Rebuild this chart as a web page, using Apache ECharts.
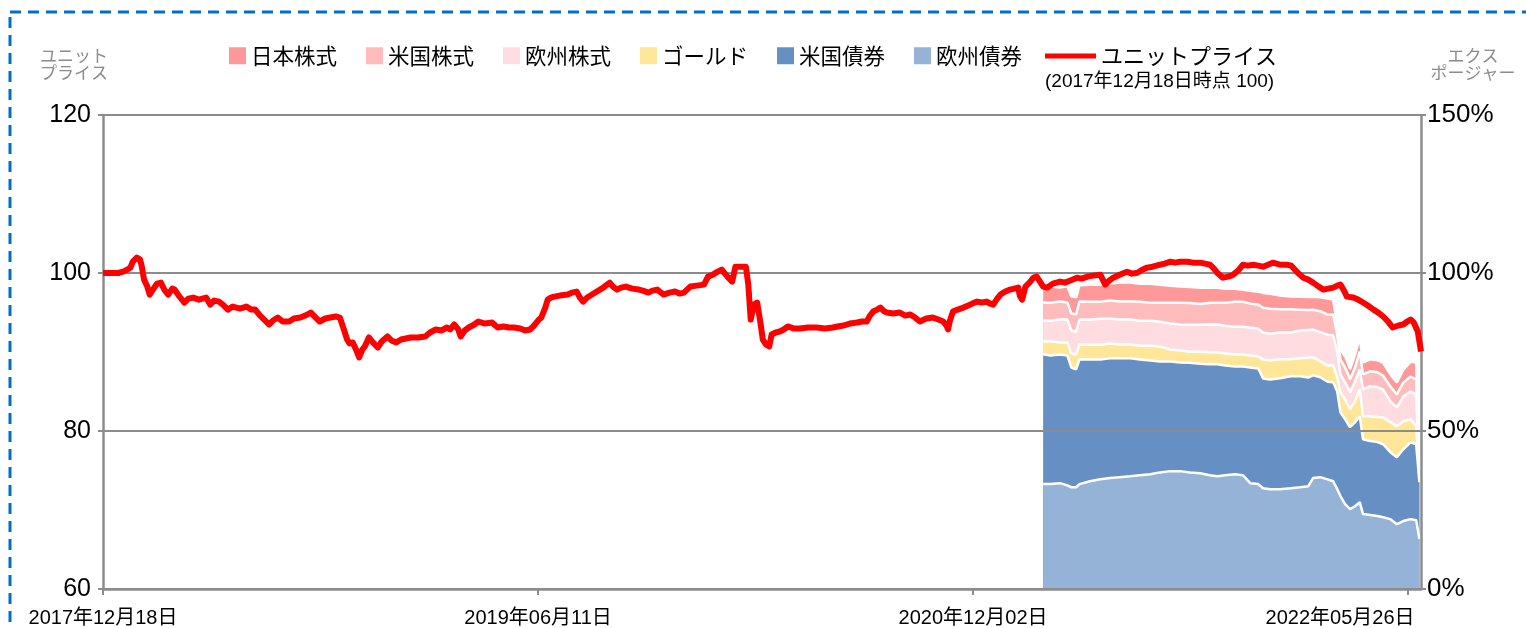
<!DOCTYPE html>
<html>
<head>
<meta charset="utf-8">
<script src="https://cdn.jsdelivr.net/npm/echarts@6/dist/echarts.min.js"></script>
<style>
html,body{margin:0;padding:0;background:#fff;}
#chart{width:1526px;height:628px;}
</style>
</head>
<body>
<div id="chart"></div>
<script>
// ---------- DATA ----------
// x positions are days counted from the start date 2017-12-18
const startDate = '2017-12-18';
const xTickStepDays = 540;
const xTickLabels = ['2017年12月18日', '2019年06月11日', '2020年12月02日', '2022年05月26日'];
const xMaxDays = 1636;

// Unit price (2017-12-18 = 100)
const priceDays = [0,9,19,25,30,34,37,42,46,48,51,55,58,62,67,72,76,81,86,89,94,101,106,112,119,128,133,138,144,150,155,161,170,178,184,189,195,200,206,211,217,223,231,237,245,251,258,264,269,276,282,289,294,299,303,306,310,314,318,322,325,330,335,341,346,353,358,364,370,376,382,391,400,406,413,420,427,431,436,441,444,449,454,461,466,474,483,487,490,497,504,510,518,524,530,534,538,541,544,549,552,556,560,567,577,582,588,592,596,601,607,613,621,624,629,633,638,643,649,657,665,670,677,682,688,691,696,703,710,716,721,725,729,737,746,751,757,763,768,775,781,785,791,798,801,804,808,812,816,819,823,827,830,835,840,845,850,858,865,875,886,896,906,912,919,927,936,942,948,952,956,961,965,970,973,981,989,996,1002,1008,1014,1022,1030,1037,1043,1047,1049,1051,1055,1061,1068,1074,1079,1085,1091,1097,1101,1105,1110,1114,1120,1126,1131,1136,1138,1141,1145,1150,1155,1159,1163,1167,1172,1179,1188,1194,1200,1209,1215,1222,1229,1238,1241,1244,1249,1254,1262,1271,1277,1284,1290,1296,1303,1312,1318,1325,1331,1337,1346,1353,1362,1368,1374,1379,1383,1387,1390,1397,1403,1409,1415,1421,1428,1434,1440,1446,1452,1461,1470,1475,1477,1483,1490,1496,1502,1509,1515,1521,1527,1532,1536,1541,1544,1552,1558,1564,1570,1577,1583,1589,1595,1601,1608,1614,1619,1623,1627,1632,1634,1636];
const priceValues = [100.0,100.0,100.0,100.17,100.42,100.68,101.43,101.94,101.69,100.93,99.16,98.28,97.27,97.90,98.66,98.78,97.90,97.27,98.02,97.90,97.14,96.26,96.76,96.89,96.63,96.89,96.00,96.51,96.38,95.88,95.37,95.75,95.50,95.75,95.37,95.37,94.61,94.11,93.48,93.98,94.36,93.86,93.86,94.24,94.36,94.61,94.99,94.36,93.86,94.24,94.36,94.49,94.36,92.85,91.58,91.08,91.21,90.32,89.31,90.32,90.70,91.84,91.21,90.57,91.33,91.96,91.46,91.21,91.58,91.71,91.84,91.84,91.96,92.47,92.85,92.72,93.10,92.85,93.48,92.85,91.96,92.72,93.10,93.48,93.86,93.60,93.73,93.35,93.10,93.23,93.10,93.10,92.97,92.72,92.85,93.23,93.73,94.11,94.36,95.62,96.63,96.89,97.01,97.14,97.27,97.52,97.65,96.89,96.38,96.89,97.27,97.65,98.15,98.40,98.78,98.28,97.90,98.15,98.28,98.02,97.90,97.77,97.52,97.77,97.90,97.65,97.27,97.52,97.65,97.39,97.52,97.90,98.28,98.40,98.53,99.54,99.79,100.17,100.42,99.54,98.91,100.80,100.80,100.80,98.53,94.11,96.00,96.26,93.73,91.58,90.95,90.70,92.22,92.47,92.59,92.85,93.23,92.97,92.97,93.10,93.10,92.97,93.10,93.23,93.35,93.60,93.73,93.86,93.86,94.61,95.12,95.37,95.62,95.12,94.99,94.87,94.99,94.61,94.74,94.36,93.86,94.24,94.36,94.11,93.86,93.35,92.85,93.86,95.12,95.37,95.62,95.88,96.13,96.38,96.26,96.38,96.13,96.00,96.76,97.27,97.65,97.90,98.02,98.15,97.14,96.63,98.28,98.78,99.41,99.54,98.91,98.28,98.15,98.66,98.91,98.78,99.03,99.41,99.29,99.54,99.67,99.79,99.16,98.53,99.03,99.41,99.79,100.17,99.92,100.04,100.42,100.68,100.80,101.05,101.18,101.43,101.31,101.43,101.43,101.31,101.31,101.18,101.05,100.55,100.04,99.67,99.41,99.54,99.79,100.30,101.05,100.93,101.05,100.93,100.80,101.05,101.31,101.05,101.05,100.93,100.68,100.04,99.41,99.16,98.78,98.28,97.90,98.02,98.15,98.40,98.53,97.65,97.01,96.89,96.63,96.26,95.88,95.37,94.99,94.49,93.86,93.10,93.35,93.48,93.86,94.11,93.73,92.59,91.33,90.07];

// Exposure by asset (% of portfolio)
const areaDays = [1167,1176,1188,1197,1202,1208,1212,1225,1238,1250,1262,1275,1287,1300,1312,1325,1337,1349,1362,1374,1383,1393,1405,1415,1424,1434,1440,1449,1461,1474,1486,1496,1502,1511,1520,1527,1532,1536,1542,1548,1554,1560,1564,1573,1582,1589,1598,1606,1614,1623,1630,1634];
const euBond  = [33.2,33.2,33.5,32.8,32.2,32.2,33.2,34.1,34.7,35.1,35.4,35.7,36.0,36.3,36.9,37.3,37.3,36.9,36.6,36.0,35.7,36.0,36.3,36.0,33.5,33.2,31.9,31.6,31.6,31.9,32.2,32.5,35.1,35.4,34.7,34.1,31.6,29.4,26.8,25.3,26.2,27.5,23.7,23.4,23.1,22.7,22.1,20.5,21.5,22.1,21.8,15.8];
const usBond  = [41.1,40.7,40.7,41.1,37.9,37.3,39.5,38.5,37.9,37.9,37.6,37.3,36.6,36.0,35.1,34.7,34.4,34.7,34.7,35.1,35.4,34.7,34.1,34.4,36.6,36.6,34.7,34.7,35.1,35.4,35.1,34.4,32.5,31.6,30.9,31.3,30.9,26.5,26.8,25.9,26.5,27.2,23.7,23.4,23.4,23.1,21.2,21.2,22.7,24.3,24.0,18.0];
const gold    = [4.1,4.4,3.8,4.1,4.4,4.7,4.7,4.7,4.7,4.7,4.4,4.4,4.4,4.7,4.7,3.8,3.8,3.5,3.8,3.8,3.8,3.8,3.8,3.8,3.8,3.8,6.0,6.0,6.0,5.4,5.7,6.3,5.7,5.1,5.1,5.4,4.4,6.3,6.3,5.7,6.6,8.5,7.3,7.9,7.9,8.5,9.5,9.8,8.8,7.3,5.7,1.6];
const euStock = [6.6,6.6,7.3,7.3,7.3,7.3,7.9,7.9,8.2,7.9,7.9,7.9,7.9,7.9,7.9,8.2,8.2,8.5,8.5,8.8,8.8,8.8,8.8,8.8,8.8,8.8,8.5,8.5,8.5,8.5,8.8,8.8,8.8,9.2,9.8,9.5,8.2,5.7,5.4,5.4,6.3,6.3,8.5,9.5,9.5,8.8,6.6,6.0,7.9,8.8,10.1,1.3];
const usStock = [5.7,5.7,5.7,5.4,5.4,5.4,5.7,5.7,5.4,5.7,5.7,5.7,6.0,5.7,6.0,6.6,6.9,6.9,6.6,6.9,6.9,7.3,7.9,7.9,7.6,7.6,7.9,7.9,7.3,7.3,6.6,6.3,6.3,6.6,6.3,6.6,5.4,4.7,4.7,4.1,4.4,5.7,4.7,4.7,4.7,4.4,4.7,4.1,4.4,4.7,4.7,1.3];
const jpStock = [4.7,5.1,4.4,5.1,5.4,5.4,5.1,5.4,5.4,5.4,6.0,6.0,5.7,6.0,5.7,5.4,5.1,5.1,5.1,4.7,4.7,4.4,4.1,3.8,4.1,4.1,4.7,4.7,4.4,4.1,4.1,4.1,4.1,4.4,5.1,4.7,3.2,3.2,3.5,3.2,4.1,4.4,3.8,3.8,3.8,4.1,3.8,3.8,4.1,4.7,5.4,1.3];

const leftAxis = {min: 60, max: 120, step: 20};
const rightAxis = {min: 0, max: 150, step: 50};

// ---------- CHART ----------
const cjk = "'Noto Sans CJK JP', sans-serif";
const num = "'Liberation Sans', 'Noto Sans CJK JP', sans-serif";

// stacking order, bottom first
const stackDefs = [
  {name: '欧州債券', data: euBond,  color: '#95B3D7'},
  {name: '米国債券', data: usBond,  color: '#6690C4'},
  {name: 'ゴールド', data: gold,    color: '#FFE699'},
  {name: '欧州株式', data: euStock, color: '#FFDCE0'},
  {name: '米国株式', data: usStock, color: '#FFBCBC'},
  {name: '日本株式', data: jpStock, color: '#FF9999'}
];
const colorOf = {};
stackDefs.forEach(d => colorOf[d.name] = d.color);

// cumulative tops of each band (library draws each band from 0; upper bands drawn first)
let running = areaDays.map(() => 0);
const bands = stackDefs.map(d => {
  running = running.map((v, i) => v + d.data[i]);
  return {name: d.name, color: d.color, top: running.slice()};
});
const areaSeries = bands.slice().reverse().map(b => ({
  name: b.name,
  type: 'line',
  yAxisIndex: 1,
  data: areaDays.map((x, i) => [x, b.top[i]]),
  showSymbol: false,
  symbol: 'none',
  z: 2,
  itemStyle: {color: b.color},
  lineStyle: {color: '#ffffff', width: 2.5},
  areaStyle: {color: b.color, opacity: 1, origin: 'start'},
  emphasis: {disabled: true},
  silent: true
}));

const legendNames = ['日本株式', '米国株式', '欧州株式', 'ゴールド', '米国債券', '欧州債券'];

const option = {
  animation: false,
  grid: {left: 103, right: 105, top: 115, bottom: 38, containLabel: false},
  legend: [
    {
      data: legendNames.map(n => ({name: n, icon: 'rect', itemStyle: {color: colorOf[n], borderWidth: 0}})),
      left: 229, top: 45, padding: 0,
      itemWidth: 17, itemHeight: 17, itemGap: 29,
      selectedMode: false,
      textStyle: {fontSize: 21.5, color: '#000', fontFamily: cjk}
    },
    {
      data: [{name: 'ユニットプライス', icon: 'rect', itemStyle: {color: '#FF0000', borderWidth: 0}}],
      left: 1045, top: 45, padding: 0,
      itemWidth: 51, itemHeight: 5,
      selectedMode: false,
      textStyle: {fontSize: 22, color: '#000', fontFamily: cjk}
    }
  ],
  xAxis: {
    type: 'value',
    min: 0, max: xMaxDays, interval: xTickStepDays,
    axisLine: {show: true, lineStyle: {color: '#8c8c8c', width: 2.5}},
    axisTick: {show: true, length: 6, lineStyle: {color: '#8c8c8c', width: 2}},
    splitLine: {show: false},
    axisLabel: {
      margin: 19,
      fontSize: 20,
      fontFamily: num,
      color: '#000',
      showMaxLabel: false,
      formatter: function (v) {
        const i = Math.round(v / xTickStepDays);
        if (Math.abs(v - i * xTickStepDays) > 0.01 || i >= xTickLabels.length) return '';
        if (i === xTickLabels.length - 1) return '{shift|' + xTickLabels[i] + '}';
        return xTickLabels[i];
      },
      rich: {
        shift: {padding: [0, 136, 0, 0], fontSize: 20, fontFamily: num, color: '#000'}
      }
    }
  },
  yAxis: [
    {
      type: 'value',
      min: leftAxis.min, max: leftAxis.max, interval: leftAxis.step,
      z: 3,
      axisLine: {show: true, lineStyle: {color: '#8c8c8c', width: 2.5}},
      axisTick: {show: true, length: 5, lineStyle: {color: '#8c8c8c', width: 2}},
      splitLine: {show: true, lineStyle: {color: '#8c8c8c', width: 2}},
      axisLabel: {margin: 12, fontSize: 25, fontFamily: num, color: '#000'}
    },
    {
      type: 'value',
      min: rightAxis.min, max: rightAxis.max, interval: rightAxis.step,
      z: 3,
      position: 'right',
      axisLine: {show: true, lineStyle: {color: '#8c8c8c', width: 2.5}},
      axisTick: {show: true, length: 5, lineStyle: {color: '#8c8c8c', width: 2}},
      splitLine: {show: false},
      axisLabel: {margin: 6, fontSize: 26, fontFamily: num, color: '#000', formatter: '{value}%'}
    }
  ],
  graphic: [
    {
      type: 'rect', silent: true, z: 0,
      shape: {x: 10, y: 12, width: 1560, height: 680},
      style: {fill: 'none', stroke: '#0070C0', lineWidth: 3, lineDash: [11, 7]}
    },
    {
      type: 'text', left: 40, top: 47, silent: true,
      style: {text: 'ユニット\nプライス', fill: '#8c8c8c', font: "17px 'Noto Sans CJK JP'", lineHeight: 17}
    },
    {
      type: 'text', x: 1473, y: 47, silent: true,
      style: {text: 'エクス\nポージャー', fill: '#8c8c8c', font: "17px 'Noto Sans CJK JP'", lineHeight: 17, align: 'center'}
    },
    {
      type: 'text', left: 1045, top: 72, silent: true,
      style: {text: '(2017年12月18日時点 100)', fill: '#000', font: "19px 'Liberation Sans', 'Noto Sans CJK JP'"}
    }
  ],
  series: areaSeries.concat([
    {
      name: 'ユニットプライス',
      type: 'line',
      yAxisIndex: 0,
      data: priceDays.map((x, i) => [x, priceValues[i]]),
      showSymbol: false,
      symbol: 'none',
      z: 5,
      itemStyle: {color: '#FF0000'},
      lineStyle: {color: '#FF0000', width: 6, join: 'round'},
      emphasis: {disabled: true},
      silent: true
    }
  ])
};

const chart = echarts.init(document.getElementById('chart'), null, {renderer: 'canvas'});
chart.setOption(option);
</script>
</body>
</html>
